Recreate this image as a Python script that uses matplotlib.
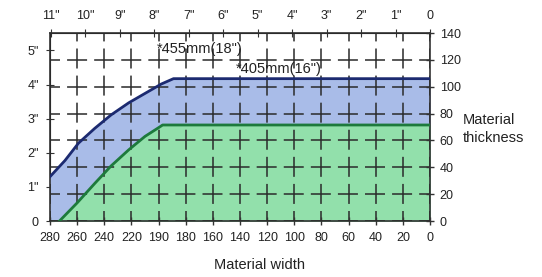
import matplotlib.pyplot as plt

plt.rcParams['font.family'] = ['Liberation Sans', 'DejaVu Sans']
plt.rcParams['lines.scale_dashes'] = False

# Material width (mm) vs thickness (mm)
blue_width = [280, 269, 259, 247, 235, 222, 210, 198, 189, 0]
blue_thick = [33, 45, 58, 69, 79, 88, 95, 102, 106, 106]
green_width = [280, 273, 260, 247, 235, 222, 210, 200, 197, 0]
green_thick = [0, 0, 13.5, 28, 41, 53, 63, 69.5, 71.5, 71.5]

width_ticks = [280, 260, 240, 220, 200, 180, 160, 140, 120, 100, 80, 60, 40, 20, 0]
width_labels = ["280", "260", "240", "220", "190", "180", "160", "140", "120",
                "100", "80", "60", "40", "20", "0"]
thick_ticks = [0, 20, 40, 60, 80, 100, 120, 140]
inch_vals = [11, 10, 9, 8, 7, 6, 5, 4, 3, 2, 1, 0]
inch_y_vals = [0, 1, 2, 3, 4, 5]

txt = "#222222"
fig = plt.figure(figsize=(5.42, 2.77), dpi=100)
ax = fig.add_axes([50 / 542, 1 - 221 / 277, 380 / 542, 188 / 277])

ax.fill_between(blue_width, 0, blue_thick, color="#a9bce8", zorder=1)
ax.fill_between(green_width, 0, green_thick, color="#92e0ab", zorder=2)
ax.plot(blue_width, blue_thick, color="#1c2a70", lw=2, zorder=4)
ax.plot(green_width[1:], green_thick[1:], color="#1d7a3c", lw=2, zorder=4)

ax.set_xlim(280, 0)
ax.set_ylim(0, 140)
ax.set_xticks(width_ticks)
ax.set_xticklabels(width_labels)
ax.yaxis.tick_right()
ax.set_yticks(thick_ticks)
# dashes sized to the grid spacing so each crossing forms a "+"
ax.grid(True, color="#2a2a2a", ls=(7.2, (14.4, 5.1)), lw=1.1, zorder=3)
ax.set_axisbelow(False)
ax.tick_params(direction="inout", length=6, width=1, labelsize=9,
               colors="#333333", labelcolor=txt)
ax.tick_params(axis="x", pad=5)
ax.tick_params(axis="y", pad=4)
for s in ax.spines.values():
    s.set_color("#333333")
    s.set_linewidth(1.2)

top = ax.secondary_xaxis("top")
top.set_xticks([v * 25.4 for v in inch_vals])
top.set_xticklabels([f'{v}"' if v else "0" for v in inch_vals])
top.tick_params(direction="inout", length=6, labelsize=9, colors="#333333",
                labelcolor=txt, pad=5)

left = ax.secondary_yaxis("left")
left.set_yticks([v * 25.4 for v in inch_y_vals])
left.set_yticklabels([f'{v}"' if v else "0" for v in inch_y_vals])
left.tick_params(direction="inout", length=6, labelsize=9, colors="#333333",
                 labelcolor=txt, pad=5)

ax.text(201, 128, '*455mm(18")', fontsize=10.5, color=txt, va="center", zorder=5)
ax.text(143, 113, '*405mm(16")', fontsize=10.5, color=txt, va="center", zorder=5)

fig.text(260 / 542, 1 - 265 / 277, "Material width", fontsize=10.5,
         color=txt, va="center", ha="center")
fig.text(463 / 542, 1 - 129 / 277, "Material\nthickness", fontsize=10.5,
         color=txt, va="center", ha="left", linespacing=1.4)

fig.savefig("out.png", dpi=100)
